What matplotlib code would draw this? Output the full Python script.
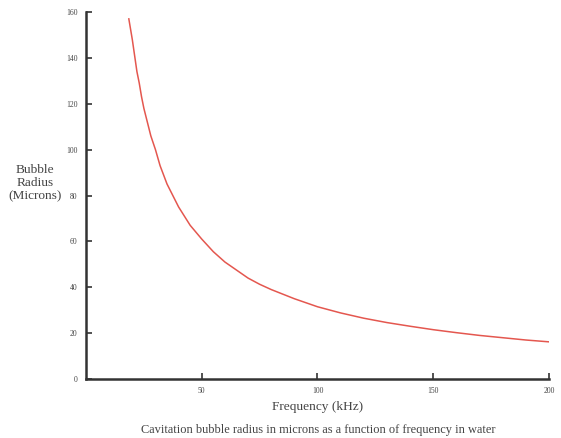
#!/usr/bin/env python3
"""Cavitation bubble radius vs. frequency in water."""
import matplotlib

matplotlib.use("Agg")
import matplotlib.pyplot as plt

# values
freq_khz = [18.5, 19, 20, 21, 22, 23, 24, 25, 26, 28, 30, 32, 35, 38, 40,
            45, 50, 55, 60, 65, 70, 75, 80, 90, 100, 110, 120, 130, 140,
            150, 160, 170, 180, 190, 200]
radius_um = [157, 154, 148, 141, 134, 129, 123, 118, 114, 106, 100, 93, 85,
             79, 75, 67, 61, 55.5, 51, 47.5, 44, 41.3, 39, 35, 31.5, 28.8,
             26.5, 24.6, 23, 21.5, 20.2, 19, 18, 17, 16.2]

x_ticks = [50, 100, 150, 200]
y_ticks = [0, 20, 40, 60, 80, 100, 120, 140, 160]

plt.rcParams["font.family"] = ["Liberation Serif", "DejaVu Serif"]

fig = plt.figure(figsize=(5.61, 4.38), dpi=100)
ax = fig.add_axes([0.1533, 0.1347, 0.8253, 0.8379])

ax.plot(freq_khz, radius_um, color="#e4574f", linewidth=1.1)

ax.set_xlim(0, 200)
ax.set_ylim(0, 160)
ax.set_xticks(x_ticks)
ax.set_yticks(y_ticks)
for side in ("top", "right"):
    ax.spines[side].set_visible(False)
for side in ("left", "bottom"):
    ax.spines[side].set_linewidth(1.8)
    ax.spines[side].set_color("#333333")
ax.tick_params(direction="in", length=4, width=1.2, colors="#333333",
               labelsize=5.5, labelcolor="#444444", pad=6)

fig.text(0.062, 0.582, "Bubble\nRadius\n(Microns)", ha="center", va="center",
         fontsize=9.6, color="#444444", linespacing=1.1)
fig.text(0.566, 0.071, "Frequency (kHz)", ha="center", va="center",
         fontsize=9.6, color="#444444")
fig.text(0.567, 0.018, "Cavitation bubble radius in microns as a function of frequency in water",
         ha="center", va="center", fontsize=8.9, color="#444444")

fig.savefig("out.png", dpi=100)
